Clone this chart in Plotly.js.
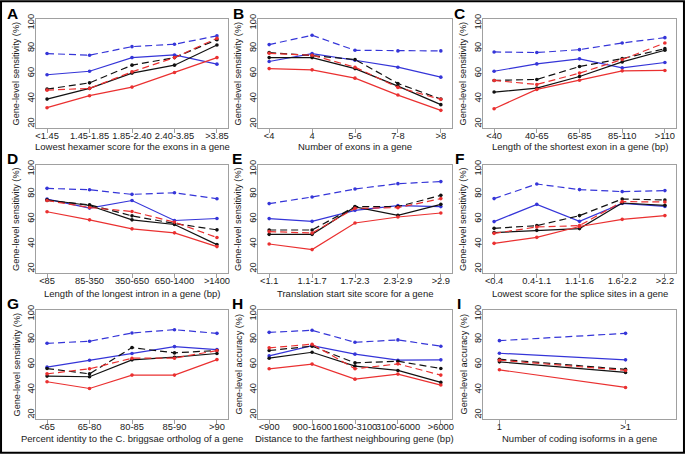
<!DOCTYPE html>
<html>
<head>
<meta charset="utf-8">
<script src="https://cdn.plot.ly/plotly-3.0.1.min.js"></script>
<style>html,body{margin:0;padding:0;background:#fff;}#chart{width:685px;height:454px;}</style>
</head>
<body>
<div id="chart"></div>
<script>
// ---------- DATA ----------
const catsA = ["<1.45", "1.45-1.85", "1.85-2.40", "2.40-3.85", ">3.85"];
const blueDashA  = [75.8, 74.5, 81.3, 83.2, 89.8];
const blueSolidA = [59.0, 61.8, 72.6, 74.7, 67.4];
const blackDashA = [47.6, 52.6, 66.6, 72.6, 86.8];
const blackSolidA= [39.7, 48.2, 60.3, 66.6, 82.6];
const redDashA   = [46.8, 48.2, 61.3, 72.6, 87.9];
const redSolidA  = [32.9, 42.4, 49.2, 60.8, 72.6];

const catsB = ["<4", "4", "5-6", "7-8", ">8"];
const blueDashB  = [82.9, 90.3, 78.4, 77.9, 77.9];
const blueSolidB = [69.5, 75.8, 70.5, 65.0, 57.1];
const blackDashB = [76.6, 74.2, 71.1, 52.1, 39.7];
const blackSolidB= [72.6, 72.6, 63.9, 50.0, 35.3];
const redDashB   = [76.0, 74.5, 65.0, 49.0, 39.5];
const redSolidB  = [63.9, 62.9, 56.3, 42.9, 30.8];

const catsC = ["<40", "40-65", "65-85", "85-110", ">110"];
const blueDashC  = [77.1, 76.6, 78.9, 84.2, 88.4];
const blueSolidC = [61.8, 67.6, 71.6, 64.5, 68.7];
const blackDashC = [54.5, 55.3, 65.5, 71.8, 79.7];
const blackSolidC= [45.3, 48.4, 57.6, 69.2, 78.4];
const redDashC   = [54.5, 51.3, 60.3, 71.1, 84.2];
const redSolidC  = [32.1, 47.4, 54.7, 62.1, 62.4];

const catsD = ["<85", "85-350", "350-650", "650-1400", ">1400"];
const blueDashD  = [84.5, 83.4, 79.7, 81.0, 76.2];
const blueSolidD = [75.9, 68.7, 74.8, 58.8, 60.4];
const blackDashD = [74.8, 71.4, 62.5, 56.4, 51.3];
const blackSolidD= [75.4, 70.8, 59.3, 55.6, 39.5];
const redDashD   = [74.8, 69.2, 66.0, 57.5, 45.2];
const redSolidD  = [65.8, 59.3, 52.1, 48.9, 37.9];

const catsE = ["<1.1", "1.1-1.7", "1.7-2.3", "2.3-2.9", ">2.9"];
const blueDashE  = [72.3, 77.6, 84.0, 88.3, 89.9];
const blueSolidE = [60.3, 58.1, 66.9, 70.7, 69.9];
const blackDashE = [51.2, 51.2, 69.9, 69.9, 78.9];
const blackSolidE= [47.7, 47.7, 69.6, 62.9, 71.7];
const redDashE   = [49.9, 48.8, 68.5, 69.1, 76.3];
const redSolidE  = [40.0, 35.5, 56.8, 61.6, 64.8];

const catsF = ["<0.4", "0.4-1.1", "1.1-1.6", "1.6-2.2", ">2.2"];
const blueDashF  = [76.3, 88.0, 83.5, 81.9, 82.7];
const blueSolidF = [57.9, 71.7, 58.1, 72.5, 70.1];
const blackDashF = [52.5, 54.7, 62.7, 76.0, 75.2];
const blackSolidF= [49.1, 50.9, 52.3, 72.8, 70.9];
const redDashF   = [48.5, 53.6, 54.7, 73.9, 73.6];
const redSolidF  = [40.5, 45.3, 54.0, 59.7, 62.7];

const catsG = ["<65", "65-80", "80-85", "85-90", ">90"];
const blueDashG  = [76.8, 78.4, 85.0, 87.6, 84.7];
const blueSolidG = [57.9, 63.4, 68.7, 74.2, 71.8];
const blackDashG = [56.8, 52.6, 73.4, 69.2, 71.1];
const blackSolidG= [50.8, 50.3, 63.7, 65.8, 68.7];
const redDashG   = [52.6, 56.6, 65.0, 65.0, 71.1];
const redSolidG  = [46.3, 41.0, 51.6, 51.6, 63.9];

const catsH = ["<900", "900-1600", "1600-3100", "3100-6000", ">6000"];
const blueDashH  = [85.5, 87.1, 77.6, 79.5, 74.5];
const blueSolidH = [66.8, 75.0, 68.2, 63.4, 63.7];
const blackDashH = [71.1, 74.5, 61.3, 62.6, 56.8];
const blackSolidH= [65.0, 69.7, 58.7, 55.3, 45.8];
const redDashH   = [73.2, 76.1, 56.6, 60.5, 51.6];
const redSolidH  = [56.6, 60.3, 48.4, 52.4, 43.7];

const catsI = ["1", ">1"];
const blueDashI  = [78.9, 84.7];
const blueSolidI = [68.9, 63.7];
const blackDashI = [64.2, 56.1];
const blackSolidI= [62.1, 53.7];
const redDashI   = [63.4, 55.3];
const redSolidI  = [55.8, 41.8];

const panelLetters = ["A","B","C","D","E","F","G","H","I"];
const xTitles = [
  "Lowest hexamer score for the exons in a gene",
  "Number of exons in a gene",
  "Length of the shortest exon in a gene (bp)",
  "Length of the longest intron in a gene (bp)",
  "Translation start site score for a gene",
  "Lowest score for the splice sites in a gene",
  "Percent identity to the C. briggsae ortholog of a gene",
  "Distance to the farthest neighbouring gene (bp)",
  "Number of coding isoforms in a gene"
];
const yTitles = [
  "Gene-level sensitivity (%)","Gene-level sensitivity (%)","Gene-level sensitivity (%)",
  "Gene-level sensitivity (%)","Gene-level sensitivity (%)","Gene-level sensitivity (%)",
  "Gene-level sensitivity (%)","Gene-level accuracy (%)","Gene-level accuracy (%)"
];
const yTicks = [20, 40, 60, 80, 100];

// ---------- ASSEMBLY ----------
const panels = [
  [catsA, [blueDashA, blueSolidA, blackDashA, blackSolidA, redDashA, redSolidA]],
  [catsB, [blueDashB, blueSolidB, blackDashB, blackSolidB, redDashB, redSolidB]],
  [catsC, [blueDashC, blueSolidC, blackDashC, blackSolidC, redDashC, redSolidC]],
  [catsD, [blueDashD, blueSolidD, blackDashD, blackSolidD, redDashD, redSolidD]],
  [catsE, [blueDashE, blueSolidE, blackDashE, blackSolidE, redDashE, redSolidE]],
  [catsF, [blueDashF, blueSolidF, blackDashF, blackSolidF, redDashF, redSolidF]],
  [catsG, [blueDashG, blueSolidG, blackDashG, blackSolidG, redDashG, redSolidG]],
  [catsH, [blueDashH, blueSolidH, blackDashH, blackSolidH, redDashH, redSolidH]],
  [catsI, [blueDashI, blueSolidI, blackDashI, blackSolidI, redDashI, redSolidI]]
];

const BLUE = "#3535d8", RED = "#ea3030", BLACK = "#111111";
const styles = [
  {color: BLUE, dash: "7px,4px"},
  {color: BLUE, dash: "solid"},
  {color: BLACK, dash: "7px,4px"},
  {color: BLACK, dash: "solid"},
  {color: RED, dash: "7px,4px"},
  {color: RED, dash: "solid"}
];

const W = 685, H = 454;
const colsPx = [[36, 228], [258, 452], [483, 676]];
const rowsPx = [[19, 128], [165, 273], [310, 419]];
const letterPos = [[12, 13], [238, 13], [459, 13], [12, 159], [237, 159], [459, 159], [13, 303], [237, 303], [459, 303]];
const xTitleY = [147, 293.5, 438];

const FONT = "Liberation Sans, Arial, Helvetica, sans-serif";
const traces = [];
const layout = {
  width: W, height: H,
  margin: {l: 0, r: 0, t: 0, b: 0},
  paper_bgcolor: "#fff", plot_bgcolor: "#fff",
  showlegend: false,
  font: {family: FONT, size: 9, color: "#222"},
  annotations: [],
  shapes: [{type: "rect", xref: "paper", yref: "paper", x0: 0.0015, x1: 0.9985, y0: 0.0025, y1: 0.9975,
            line: {color: "#000", width: 2}}]
};

panels.forEach((p, i) => {
  const cats = p[0], series = p[1];
  const r = Math.floor(i / 3), c = i % 3;
  const ax = i === 0 ? "" : String(i + 1);
  series.forEach((vals, s) => {
    traces.push({
      type: "scatter", mode: "lines+markers",
      x: cats, y: vals,
      xaxis: "x" + ax, yaxis: "y" + ax,
      line: {color: styles[s].color, dash: styles[s].dash, width: 1.2},
      marker: {color: styles[s].color, size: 3.6},
      hoverinfo: "skip"
    });
  });
  const xd = [colsPx[c][0] / W, colsPx[c][1] / W];
  const yd = [1 - rowsPx[r][1] / H, 1 - rowsPx[r][0] / H];
  const n = cats.length;
  layout["xaxis" + ax] = {
    domain: xd, anchor: "y" + ax, type: "category",
    range: n === 2 ? [-0.13, 1.4] : [-0.26, n - 1 + 0.26],
    showline: true, mirror: true, linecolor: "#a0a0a0", linewidth: 1,
    ticks: "outside", ticklen: 4, tickcolor: "#a0a0a0", ticklabelstandoff: -5,
    tickfont: {family: FONT, size: 9.3, color: "#1a1a1a"}, tickangle: 0,
    showgrid: false, zeroline: false, fixedrange: true
  };
  layout["yaxis" + ax] = {
    domain: yd, anchor: "x" + ax,
    range: [16.8, 103.2], tickmode: "array", tickvals: yTicks, ticktext: yTicks.map(String),
    showline: true, mirror: true, linecolor: "#a0a0a0", linewidth: 1,
    ticks: "outside", ticklen: 4, tickcolor: "#a0a0a0", ticklabelstandoff: -7,
    tickfont: {family: FONT, size: 9.3, color: "#1a1a1a"}, tickangle: -90,
    showgrid: false, zeroline: false, fixedrange: true
  };
  // axis titles
  layout.annotations.push({
    xref: "paper", yref: "paper",
    x: (xd[0] + xd[1]) / 2, y: 1 - xTitleY[r] / H,
    xanchor: "center", yanchor: "middle", showarrow: false,
    text: xTitles[i], font: {family: FONT, size: 9.5, color: "#1a1a1a"}
  });
  layout.annotations.push({
    xref: "paper", yref: "paper",
    x: (colsPx[c][0] - 20) / W, y: (yd[0] + yd[1]) / 2,
    xanchor: "center", yanchor: "middle", showarrow: false, textangle: -90,
    text: yTitles[i], font: {family: FONT, size: 9.2, color: "#1a1a1a"}
  });
  // panel letters
  layout.annotations.push({
    xref: "paper", yref: "paper",
    x: letterPos[i][0] / W, y: 1 - letterPos[i][1] / H,
    xanchor: "center", yanchor: "middle", showarrow: false,
    text: "<b>" + panelLetters[i] + "</b>", font: {family: FONT, size: 15.5, color: "#000"}
  });
});

Plotly.newPlot("chart", traces, layout, {staticPlot: true, displayModeBar: false});
</script>
</body>
</html>
